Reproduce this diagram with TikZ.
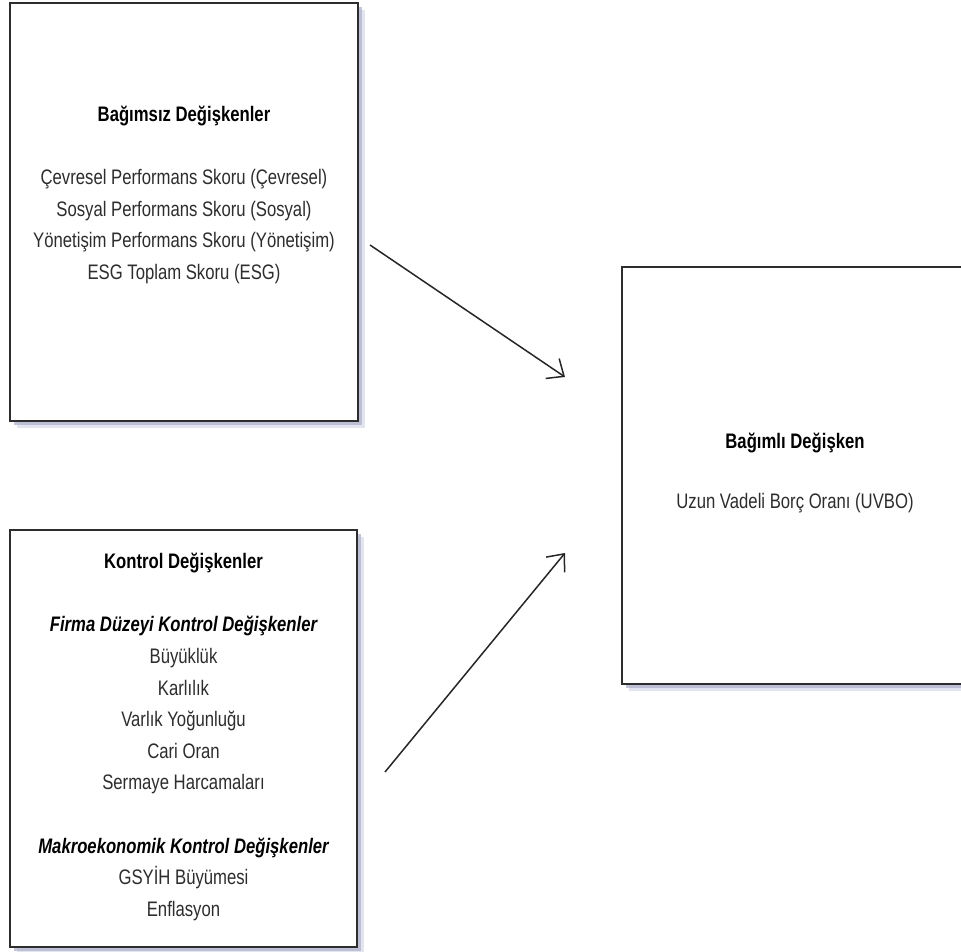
\documentclass[tikz,border=0pt]{standalone}
\usepackage{fontspec}
\setmainfont{Liberation Sans}[FakeStretch=0.795]
\usetikzlibrary{arrows.meta,shadows}
\definecolor{shadowc}{RGB}{180,184,206}
\definecolor{shadowd}{RGB}{214,216,232}
\definecolor{boxline}{RGB}{45,45,45}
\definecolor{txt}{RGB}{45,45,45}
\tikzset{
  box/.style={draw=boxline, line width=1.8pt, fill=white, inner sep=0pt,
    drop shadow={shadow xshift=7pt, shadow yshift=-7pt, fill=shadowd, opacity=0.7},
    drop shadow={shadow xshift=4pt, shadow yshift=-4pt, fill=shadowc, opacity=0.8}},
  boxtext/.style={align=center, text=txt, inner sep=0pt,
    font=\fontsize{21}{31.6}\selectfont},
  link/.style={line width=1.5pt, draw=black!85,
    -{Straight Barb[length=14pt,width=24pt,line width=1.5pt]}}
}
\begin{document}
\begin{tikzpicture}[x=1pt,y=-1pt]
\useasboundingbox (0,0) rectangle (961,952);
% boxes
\node[box, minimum width=348pt, minimum height=418pt] (indep) at (184,212) {};
\node[box, minimum width=347pt, minimum height=417pt] (ctrl) at (183.5,738.5) {};
\node[box, minimum width=350pt, minimum height=417pt] (dep) at (797,475.5) {};
% texts
\node[boxtext] (indeptext) at (184,195) {%
  \textbf{\color{black}Bağımsız Değişkenler}\\[31.6pt]
  Çevresel Performans Skoru (Çevresel)\\
  Sosyal Performans Skoru (Sosyal)\\
  Yönetişim Performans Skoru (Yönetişim)\\
  ESG Toplam Skoru (ESG)};
\node[boxtext] (ctrltext) at (183.5,737) {%
  \textbf{\color{black}Kontrol Değişkenler}\\[31.6pt]
  \textbf{\textit{\color{black}Firma Düzeyi Kontrol Değişkenler}}\\
  Büyüklük\\
  Karlılık\\
  Varlık Yoğunluğu\\
  Cari Oran\\
  Sermaye Harcamaları\\[31.6pt]
  \textbf{\textit{\color{black}Makroekonomik Kontrol Değişkenler}}\\
  GSYİH Büyümesi\\
  Enflasyon};
\node[boxtext] (deptext) at (795,473) {%
  \textbf{\color{black}Bağımlı Değişken}\\[28pt]
  Uzun Vadeli Borç Oranı (UVBO)};
% connectors
\coordinate (a1s) at (370,245);
\coordinate (a1e) at (565,377);
\coordinate (a2s) at (385,772);
\coordinate (a2e) at (565,553);
\draw[link] (a1s) -- (a1e);
\draw[link] (a2s) -- (a2e);
\end{tikzpicture}
\end{document}
